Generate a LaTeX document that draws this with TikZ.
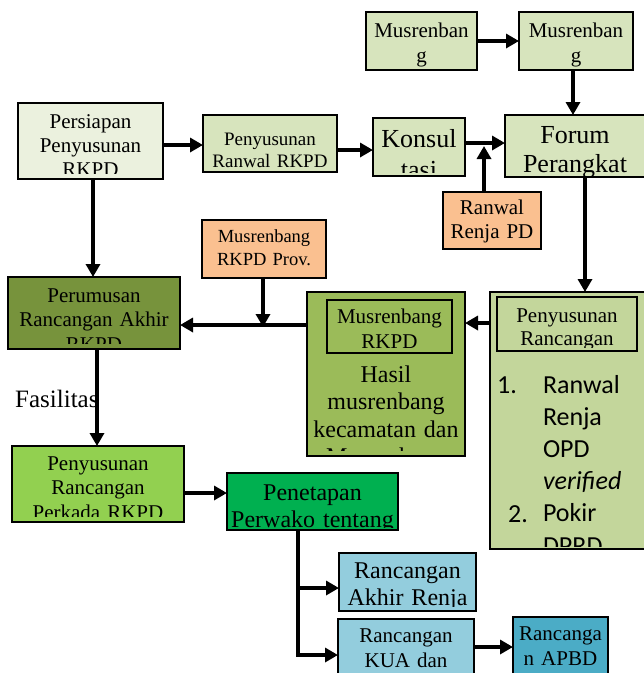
\documentclass[tikz,border=0pt]{standalone}
\usepackage{fontspec}
\setmainfont{Liberation Serif}
\newfontfamily\calib{Carlito}
\usetikzlibrary{arrows.meta}
\definecolor{lg}{HTML}{D7E4BD}
\definecolor{lgl}{HTML}{EBF1DE}
\definecolor{org}{HTML}{FAC090}
\definecolor{dk}{HTML}{77933C}
\definecolor{mg}{HTML}{9BBB59}
\definecolor{pg}{HTML}{C3D69B}
\definecolor{brg}{HTML}{92D050}
\definecolor{grn}{HTML}{00B050}
\definecolor{lb}{HTML}{93CDDD}
\definecolor{tb}{HTML}{4BACC6}
\tikzset{
  boxsty/.style={draw=black, line width=1.5pt, inner sep=0pt, outer sep=0pt},
  txt/.style={inner sep=0pt, outer sep=0pt, text width=220pt, align=center, anchor=north,
    execute at begin node={\noindent\strut}},
  ltxt/.style={inner sep=0pt, outer sep=0pt, text width=120pt, align=left, anchor=north west,
    execute at begin node={\noindent\strut}},
  f/.style 2 args={font=\fontsize{#1}{#2}\selectfont},
  conn/.style={line width=3.6pt, -{Triangle[length=13pt,width=14pt]}},
  plain/.style={line width=3.6pt},
}
\newcommand\mkbox[6]{\node[boxsty, fill=#6, minimum width={(#4-#2)*1pt}, minimum height={(#5-#3)*1pt}] (#1) at ({(#2+#4)/2},{(#3+#5)/2}) {};}
\newcommand\mktext[9]{\begin{scope}\clip (#2,#3) rectangle (#4,#5); \node[txt,#8] (#1) at (#6,#7) {#9}; \end{scope}}
\begin{document}
\begin{tikzpicture}[x=1pt,y=-1pt]
\useasboundingbox (0,0) rectangle (644,673);
% boxes
\mkbox{mus1}{366}{12}{477}{70}{lg}
\mkbox{mus2}{519}{12}{633}{70}{lg}
\mkbox{pers}{18}{103}{163}{179}{lgl}
\mkbox{ranwalR}{203}{115}{337}{172}{lg}
\mkbox{konsul}{373}{118}{465}{176}{lg}
\mkbox{forum}{505}{115}{648}{177}{lg}
\mkbox{ranwalPD}{443}{192}{541}{249}{org}
\mkbox{prov}{202}{220}{326}{278}{org}
\mkbox{perum}{8}{277}{180}{349}{dk}
\mkbox{musO}{307}{292}{465}{456}{mg}
\mkbox{musI}{327}{300}{452}{353}{mg}
\mkbox{penyO}{490}{292}{645}{549}{pg}
\mkbox{penyI}{497}{297}{637}{351}{pg}
\mkbox{perk}{12}{446}{184}{522}{brg}
\mkbox{penet}{227}{473}{398}{530}{grn}
\mkbox{akhir}{339}{553}{476}{611}{lb}
\mkbox{kua}{338}{619}{474}{680}{lb}
\mkbox{apbd}{513}{617}{608}{680}{tb}
% texts
\mktext{mus1T}{368}{14}{475}{68}{421.5}{19.5}{f={21}{25}}{Musrenban\\g}
\mktext{mus2T}{521}{14}{631}{68}{576}{19.5}{f={21}{25}}{Musrenban\\g}
\mktext{persT}{20}{105}{161}{173}{90.5}{111.2}{f={21}{24}}{Persiapan\\Penyusunan\\RKPD}
\mktext{ranwalRT}{205}{117}{335}{170}{270}{129.6}{f={19}{22}}{Penyusunan\\Ranwal RKPD}
\mktext{konsulT}{375}{120}{463}{172}{419}{126}{f={26}{31}}{Konsul\\tasi}
\mktext{forumT}{507}{117}{644}{175}{575}{122.4}{f={26}{29.5}}{Forum\\Perangkat}
\mktext{ranwalPDT}{445}{194}{539}{247}{492}{198.5}{f={21}{23.5}}{Ranwal\\Renja PD}
\mktext{provT}{204}{222}{324}{276}{264}{225.9}{f={18.5}{23}}{Musrenbang\\RKPD Prov.}
\mktext{perumT}{10}{279}{178}{343}{94}{284.9}{f={21}{24.5}}{Perumusan\\Rancangan Akhir\\RKPD}
\mktext{musIT}{329}{302}{450}{347}{389.5}{305.5}{f={21}{25}}{Musrenbang\\RKPD}
\mktext{musOT}{309}{358}{463}{450}{386}{362.8}{f={24}{27.5}}{Hasil\\musrenbang\\kecamatan dan\\Musrenbang}
\mktext{penyIT}{499}{299}{635}{347}{567}{307}{f={21}{22.5}}{Penyusunan\\Rancangan}
\begin{scope}
\clip (492,355) rectangle (643,546);
\node[ltxt, font=\calib\fontsize{26}{32.2}\selectfont] (listT) at (543,370.5) {Ranwal\\Renja\\OPD\\\textit{verified}\\Pokir\\DPRD};
\node[inner sep=0pt, anchor=base west, font=\calib\fontsize{26}{32.2}\selectfont] (n1) at (497,393) {1.};
\node[inner sep=0pt, anchor=base west, font=\calib\fontsize{26}{32.2}\selectfont] (n2) at (508,522) {2.};
\end{scope}
\mktext{perkT}{14}{448}{182}{516}{98}{452.9}{f={21}{24.5}}{Penyusunan\\Rancangan\\Perkada RKPD}
\mktext{penetT}{229}{475}{396}{527}{312.5}{481.1}{f={24}{27}}{Penetapan\\Perwako tentang}
\mktext{akhirT}{341}{555}{474}{606}{407.5}{559.1}{f={24}{27}}{Rancangan\\Akhir Renja}
\mktext{kuaT}{340}{621}{472}{673}{406}{624.5}{f={21}{25}}{Rancangan\\KUA dan}
\mktext{apbdT}{515}{619}{606}{673}{560.5}{622.5}{f={21}{25}}{Rancanga\\n APBD}
\begin{scope}
\clip (0,380) rectangle (140,408.5);
\node[inner sep=0pt, anchor=base west, f={25}{30}] (fas) at (15,407) {Fasilitas};
\end{scope}
% helper coordinates
\coordinate (c573) at (573,0);
\coordinate (c145) at (0,145);
\coordinate (c150) at (0,150);
\coordinate (j1) at (484,143);
\coordinate (j1b) at (484,146);
\coordinate (c585) at (585,0);
\coordinate (c323) at (0,323);
\coordinate (j2) at (263,325);
\coordinate (j2b) at (263,327);
\coordinate (c93) at (93,0);
\coordinate (c97) at (97,0);
\coordinate (c493) at (0,493);
\coordinate (b1) at (298,588);
\coordinate (b2) at (298,655);
\coordinate (c647) at (0,647);
% connectors
\draw[conn] (mus1.east) -- (mus2.west);
\draw[conn] (mus2.south -| c573) -- (forum.north -| c573);
\draw[conn] (pers.east |- c145) -- (ranwalR.west |- c145);
\draw[conn] (ranwalR.east |- c150) -- (konsul.west |- c150);
\draw[conn] (konsul.east |- j1) -- (forum.west |- j1);
\draw[conn] (ranwalPD.north -| j1) -- (j1b);
\draw[conn] (forum.south -| c585) -- (penyO.north -| c585);
\draw[conn] (penyO.west |- c323) -- (musO.east |- c323);
\draw[conn] (musO.west |- j2) -- (perum.east |- j2);
\draw[conn] (prov.south -| j2) -- (j2b);
\draw[conn] (pers.south -| c93) -- (perum.north -| c93);
\draw[conn] (perum.south -| c97) -- (perk.north -| c97);
\draw[conn] (perk.east |- c493) -- (penet.west |- c493);
\draw[conn] (penet.south -| b1) |- (kua.west |- b2);
\draw[conn] (b1) -- (akhir.west |- b1);
\draw[conn] (kua.east |- c647) -- (apbd.west |- c647);
\end{tikzpicture}
\end{document}
